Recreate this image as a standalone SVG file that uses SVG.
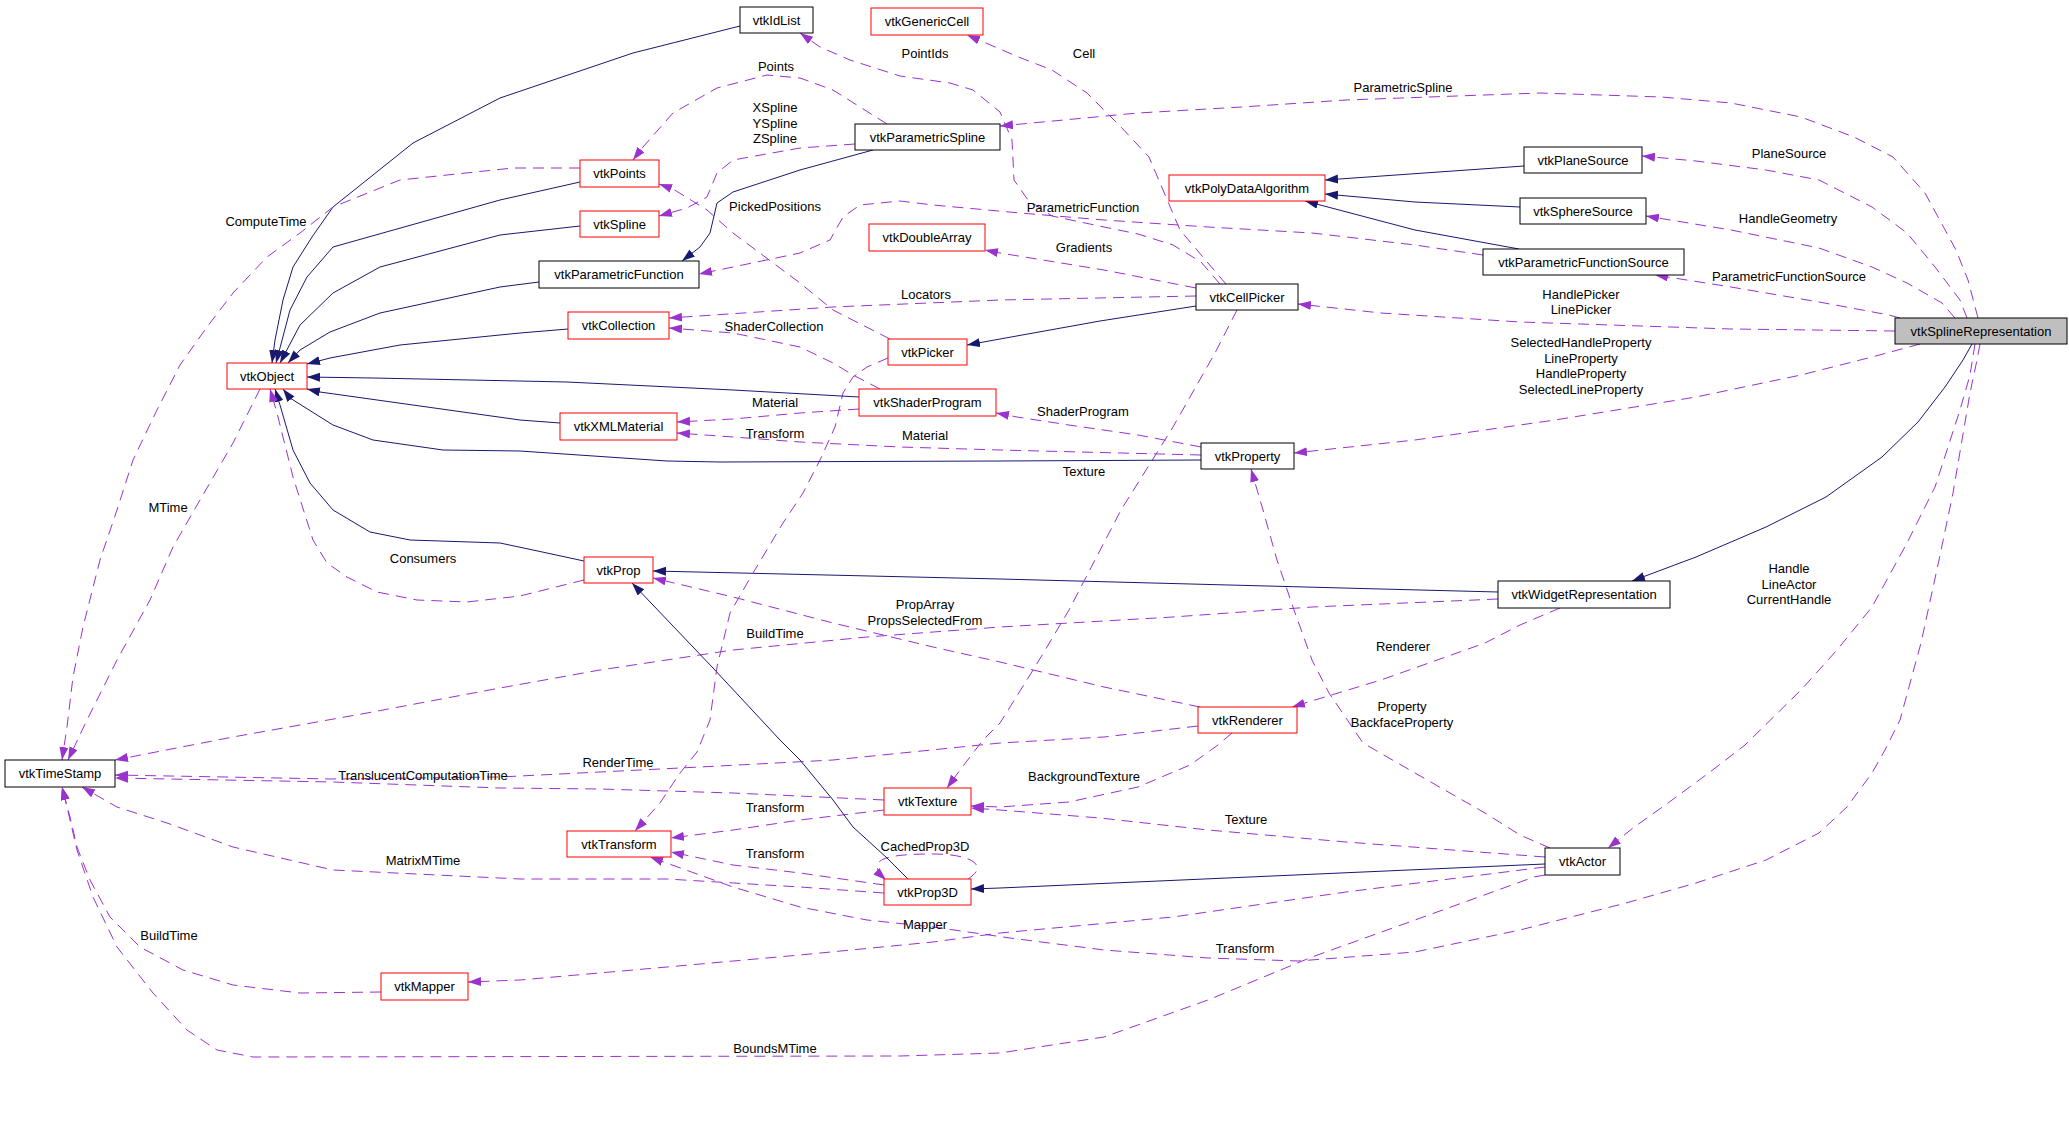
<svg xmlns="http://www.w3.org/2000/svg" width="2069" height="1124" viewBox="0 0 2069 1124">
<defs>
<marker id="ap" markerUnits="userSpaceOnUse" markerWidth="14" markerHeight="10" refX="13" refY="4.5" orient="auto"><path d="M0,0 L13,4.5 L0,9 z" fill="#9a32cd"/></marker>
<marker id="an" markerUnits="userSpaceOnUse" markerWidth="14" markerHeight="10" refX="13" refY="4.5" orient="auto"><path d="M0,0 L13,4.5 L0,9 z" fill="#191970"/></marker>
<style>
.nd rect{fill:#fff;stroke:#000;stroke-width:1}
.nd.red rect{stroke:#ff0000}
.nd.cur rect{fill:#bfbfbf}
text{font-family:"Liberation Sans",Arial,sans-serif;font-size:13px;text-anchor:middle;fill:#000}
.d{fill:none;stroke:#9a32cd;stroke-width:1;stroke-dasharray:11,7;stroke-linejoin:round;marker-end:url(#ap)}
.s{fill:none;stroke:#191970;stroke-width:1;stroke-linejoin:round;marker-end:url(#an)}
</style>
</defs>
<rect width="2069" height="1124" fill="#fff"/>
<g id="edges">
<!-- SplineRep out -->
<path class="d" d="M1978,318 L1968,280 L1956,250 L1925,193 L1893,157 L1854,137 L1801,117 L1731,103 L1661,97 L1540,93 L1346,100 L1242,107 L1138,113 L1000,126"/>
<path class="d" d="M1967,318 L1960,300 L1935,267 L1907,233 L1872,207 L1819,180 L1766,170 L1696,161 L1642,156"/>
<path class="d" d="M1955,318 L1942,303 L1907,283 L1872,267 L1819,248 L1731,230 L1646,216"/>
<path class="d" d="M1900,318 L1889,315 L1819,302 L1731,287 L1655,275"/>
<path class="d" d="M1895,331 L1731,329 L1520,322 L1381,313 L1298,304"/>
<path class="d" d="M1920,344 L1872,357 L1801,375 L1696,397 L1555,420 L1415,440 L1294,453"/>
<path class="s" d="M1972,344 L1963,360 L1945,387 L1918,422 L1882,457 L1826,497 L1766,527 L1696,557 L1632,581"/>
<path class="d" d="M1975,344 L1970,375 L1960,410 L1935,487 L1907,543 L1872,607 L1837,650 L1801,690 L1745,745 L1710,772 L1668,803 L1633,828 L1608,848"/>
<path class="d" d="M1980,344 L1977,360 L1970,393 L1953,493 L1939,560 L1921,643 L1900,720 L1885,750 L1872,773 L1847,807 L1819,833 L1766,860 L1696,883 L1626,903 L1520,930 L1415,952 L1298,961 L1208,958 L1104,950 L1010,938 L933,927 L867,920 L800,907 L733,887 L650,857"/>
<!-- vtkActor out -->
<path class="d" d="M1545,867 L1346,892 L1173,917 L1000,933 L933,942 L800,955 L667,967 L520,980 L468,982"/>
<path class="d" d="M1545,875 L1534,877 L1415,920 L1312,957 L1208,1000 L1104,1037 L1000,1053 L900,1056 L253,1057 L217,1050 L187,1030 L153,993 L117,947 L93,897 L77,850 L67,807 L62,787"/>
<path class="d" d="M1550,848 L1520,835 L1485,813 L1415,773 L1363,743 L1329,693 L1312,660 L1294,610 L1277,560 L1263,510 L1251,469"/>
<path class="d" d="M1545,857 L1346,842 L1208,830 L1100,818 L1000,810 L971,808"/>
<path class="s" d="M1545,864 L1000,888 L971,889"/>
<!-- vtkRenderer out -->
<path class="d" d="M1232,733 L1218,745 L1190,765 L1138,787 L1069,802 L1000,807 L971,806"/>
<path class="d" d="M1200,707 L1104,687 L1000,662 L933,647 L833,623 L733,597 L653,578"/>
<path class="d" d="M1198,726 L1104,737 L1000,743 L833,760 L700,767 L500,777 L333,779 L115,775"/>
<!-- WidgetRep out -->
<path class="d" d="M1560,608 L1520,625 L1485,643 L1381,680 L1305,703 L1292,707"/>
<path class="d" d="M1498,599 L1312,607 L1173,617 L1000,627 L867,637 L733,650 L600,670 L500,688 L367,713 L233,737 L115,760"/>
<path class="s" d="M1498,592 L1381,589 L1000,579 L653,571"/>
<!-- vtkTexture out -->
<path class="d" d="M884,800 L733,793 L600,789 L500,788 L333,782 L115,778"/>
<path class="d" d="M884,810 L800,820 L733,830 L671,838"/>
<!-- vtkProp3D out -->
<path class="d" d="M884,885 L800,873 L733,865 L671,852"/>
<path class="d" d="M968,879 C990,865 970,854 933,854 C890,854 862,858 886,880"/>
<path class="d" d="M884,893 L800,887 L667,879 L520,879 L333,870 L233,847 L167,823 L117,807 L82,787"/>
<path class="s" d="M908,879 L887,858 L853,827 L833,800 L800,760 L780,740 L713,668 L632,583"/>
<!-- vtkPicker out -->
<path class="d" d="M888,358 L867,367 L853,377 L843,393 L835,427 L820,460 L803,493 L783,523 L753,573 L730,613 L717,667 L710,720 L697,752 L680,773 L660,803 L635,831"/>
<path class="d" d="M890,339 L833,310 L800,283 L733,233 L707,210 L673,189 L659,184"/>
<!-- vtkShaderProgram out -->
<path class="d" d="M880,389 L853,375 L833,363 L800,347 L733,333 L669,328"/>
<path class="d" d="M859,409 L800,413 L733,419 L677,422"/>
<path class="s" d="M859,397 L733,390 L567,382 L373,378 L307,377"/>
<!-- vtkCellPicker out -->
<path class="s" d="M1196,306 L1100,321 L1000,339 L967,345"/>
<path class="d" d="M1196,296 L1000,300 L833,307 L669,318"/>
<path class="d" d="M1196,288 L1104,270 L1000,253 L985,250"/>
<path class="d" d="M1226,284 L1208,263 L1180,230 L1163,190 L1149,157 L1121,127 L1087,93 L1052,70 L1021,58 L967,35"/>
<path class="d" d="M1220,284 L1201,262 L1173,245 L1138,234 L1104,227 L1052,216 L1028,200 L1014,180 L1012,140 L1000,112 L973,90 L950,83 L900,76 L850,60 L820,47 L800,33"/>
<path class="d" d="M1237,310 L1215,353 L1173,427 L1121,510 L1069,610 L1035,667 L1000,723 L983,740 L960,770 L947,788"/>
<!-- PFS out -->
<path class="d" d="M1483,255 L1415,245 L1312,233 L1208,227 L1104,220 L1020,213 L933,205 L900,201 L860,205 L843,217 L830,240 L800,253 L733,267 L699,274"/>
<path class="s" d="M1519,249 L1415,230 L1305,201"/>
<path class="s" d="M1524,166 L1325,180"/>
<path class="s" d="M1520,207 L1415,202 L1325,194"/>
<!-- ParametricSpline out -->
<path class="d" d="M887,124 L833,90 L800,78 L767,75 L717,88 L673,113 L643,147 L633,160"/>
<path class="d" d="M855,144 L800,148 L733,160 L717,173 L707,197 L687,208 L659,216"/>
<path class="s" d="M873,150 L800,170 L733,192 L717,203 L710,233 L700,247 L682,261"/>
<!-- vtkProperty out -->
<path class="d" d="M1201,447 L1138,435 L1069,425 L1017,417 L996,413"/>
<path class="d" d="M1201,455 L1000,450 L900,447 L800,442 L733,437 L677,433"/>
<path class="s" d="M1201,460 L1000,461 L720,462 L667,461 L520,451 L443,450 L373,440 L333,425 L290,398 L283,389"/>
<!-- to vtkObject -->
<path class="s" d="M560,423 L520,420 L320,392 L307,389"/>
<path class="s" d="M568,329 L520,333 L400,345 L330,358 L307,364"/>
<path class="s" d="M539,282 L500,287 L380,313 L330,332 L300,350 L288,363"/>
<path class="s" d="M580,226 L500,235 L380,267 L333,293 L300,325 L280,363"/>
<path class="s" d="M580,182 L500,200 L333,247 L307,277 L290,310 L276,363"/>
<path class="s" d="M740,26 L633,53 L500,98 L413,143 L333,207 L312,237 L293,267 L283,300 L275,340 L272,363"/>
<path class="s" d="M584,561 L533,550 L500,543 L410,540 L370,532 L333,510 L310,483 L293,450 L280,405 L275,389"/>
<path class="d" d="M584,580 L520,596 L467,602 L417,600 L377,592 L347,577 L327,563 L313,540 L293,477 L277,413 L270,389"/>
<!-- to vtkTimeStamp -->
<path class="d" d="M580,168 L513,168 L400,180 L333,207 L300,233 L267,257 L233,293 L207,327 L180,365 L157,410 L133,460 L117,510 L100,560 L83,627 L73,677 L67,727 L62,760"/>
<path class="d" d="M260,389 L233,443 L200,500 L173,547 L150,600 L117,660 L87,720 L68,760"/>
<path class="d" d="M381,992 L300,993 L233,985 L183,970 L140,947 L110,917 L90,880 L77,847 L70,817 L62,787"/>
</g>
<g id="edge-labels">
<text x="1403" y="92">ParametricSpline</text>
<text x="1789" y="158">PlaneSource</text>
<text x="1788" y="223">HandleGeometry</text>
<text x="1789" y="281">ParametricFunctionSource</text>
<text x="1581" y="299">HandlePicker</text>
<text x="1581" y="314">LinePicker</text>
<text x="1581" y="347">SelectedHandleProperty</text>
<text x="1581" y="363">LineProperty</text>
<text x="1581" y="378">HandleProperty</text>
<text x="1581" y="394">SelectedLineProperty</text>
<text x="1789" y="573">Handle</text>
<text x="1789" y="589">LineActor</text>
<text x="1789" y="604">CurrentHandle</text>
<text x="925" y="58">PointIds</text>
<text x="1084" y="58">Cell</text>
<text x="776" y="71">Points</text>
<text x="775" y="112">XSpline</text>
<text x="775" y="128">YSpline</text>
<text x="775" y="143">ZSpline</text>
<text x="775" y="211">PickedPositions</text>
<text x="1083" y="212">ParametricFunction</text>
<text x="1084" y="252">Gradients</text>
<text x="926" y="299">Locators</text>
<text x="774" y="331">ShaderCollection</text>
<text x="266" y="226">ComputeTime</text>
<text x="775" y="407">Material</text>
<text x="775" y="438">Transform</text>
<text x="925" y="440">Material</text>
<text x="1083" y="416">ShaderProgram</text>
<text x="1084" y="476">Texture</text>
<text x="168" y="512">MTime</text>
<text x="423" y="563">Consumers</text>
<text x="925" y="609">PropArray</text>
<text x="925" y="625">PropsSelectedFrom</text>
<text x="775" y="638">BuildTime</text>
<text x="1403" y="651">Renderer</text>
<text x="1402" y="711">Property</text>
<text x="1402" y="727">BackfaceProperty</text>
<text x="618" y="767">RenderTime</text>
<text x="423" y="780">TranslucentComputationTime</text>
<text x="1084" y="781">BackgroundTexture</text>
<text x="775" y="812">Transform</text>
<text x="1246" y="824">Texture</text>
<text x="925" y="851">CachedProp3D</text>
<text x="775" y="858">Transform</text>
<text x="423" y="865">MatrixMTime</text>
<text x="925" y="929">Mapper</text>
<text x="169" y="940">BuildTime</text>
<text x="1245" y="953">Transform</text>
<text x="775" y="1053">BoundsMTime</text>
</g>
<g id="vtkIdList" class="nd"><rect x="740" y="7" width="73" height="26"/><text x="776.5" y="24.5">vtkIdList</text></g>
<g id="vtkGenericCell" class="nd red"><rect x="871" y="8" width="112" height="27"/><text x="927" y="26">vtkGenericCell</text></g>
<g id="vtkParametricSpline" class="nd"><rect x="855" y="124" width="145" height="26"/><text x="927.5" y="141.5">vtkParametricSpline</text></g>
<g id="vtkPoints" class="nd red"><rect x="580" y="160" width="79" height="27"/><text x="619.5" y="178">vtkPoints</text></g>
<g id="vtkSpline" class="nd red"><rect x="580" y="211" width="79" height="26"/><text x="619.5" y="228.5">vtkSpline</text></g>
<g id="vtkParametricFunction" class="nd"><rect x="539" y="261" width="160" height="27"/><text x="619" y="279">vtkParametricFunction</text></g>
<g id="vtkCollection" class="nd red"><rect x="568" y="312" width="101" height="27"/><text x="618.5" y="330">vtkCollection</text></g>
<g id="vtkDoubleArray" class="nd red"><rect x="869" y="224" width="116" height="27"/><text x="927" y="242">vtkDoubleArray</text></g>
<g id="vtkPicker" class="nd red"><rect x="888" y="339" width="79" height="26"/><text x="927.5" y="356.5">vtkPicker</text></g>
<g id="vtkPolyDataAlgorithm" class="nd red"><rect x="1169" y="175" width="156" height="26"/><text x="1247" y="192.5">vtkPolyDataAlgorithm</text></g>
<g id="vtkCellPicker" class="nd"><rect x="1196" y="284" width="102" height="26"/><text x="1247" y="301.5">vtkCellPicker</text></g>
<g id="vtkPlaneSource" class="nd"><rect x="1524" y="147" width="118" height="26"/><text x="1583" y="164.5">vtkPlaneSource</text></g>
<g id="vtkSphereSource" class="nd"><rect x="1520" y="198" width="126" height="26"/><text x="1583" y="215.5">vtkSphereSource</text></g>
<g id="vtkParametricFunctionSource" class="nd"><rect x="1483" y="249" width="201" height="26"/><text x="1583.5" y="266.5">vtkParametricFunctionSource</text></g>
<g id="vtkSplineRepresentation" class="nd cur"><rect x="1895" y="318" width="172" height="26"/><text x="1981" y="335.5">vtkSplineRepresentation</text></g>
<g id="vtkObject" class="nd red"><rect x="227" y="363" width="80" height="26"/><text x="267" y="380.5">vtkObject</text></g>
<g id="vtkShaderProgram" class="nd red"><rect x="859" y="389" width="137" height="27"/><text x="927.5" y="407">vtkShaderProgram</text></g>
<g id="vtkXMLMaterial" class="nd red"><rect x="560" y="413" width="117" height="27"/><text x="618.5" y="431">vtkXMLMaterial</text></g>
<g id="vtkProperty" class="nd"><rect x="1201" y="443" width="93" height="26"/><text x="1247.5" y="460.5">vtkProperty</text></g>
<g id="vtkProp" class="nd red"><rect x="584" y="557" width="69" height="26"/><text x="618.5" y="574.5">vtkProp</text></g>
<g id="vtkWidgetRepresentation" class="nd"><rect x="1498" y="581" width="172" height="27"/><text x="1584" y="599">vtkWidgetRepresentation</text></g>
<g id="vtkRenderer" class="nd red"><rect x="1198" y="707" width="99" height="26"/><text x="1247.5" y="724.5">vtkRenderer</text></g>
<g id="vtkTimeStamp" class="nd"><rect x="5" y="760" width="110" height="27"/><text x="60" y="778">vtkTimeStamp</text></g>
<g id="vtkTexture" class="nd red"><rect x="884" y="788" width="87" height="27"/><text x="927.5" y="806">vtkTexture</text></g>
<g id="vtkTransform" class="nd red"><rect x="567" y="831" width="104" height="26"/><text x="619" y="848.5">vtkTransform</text></g>
<g id="vtkProp3D" class="nd red"><rect x="884" y="879" width="87" height="26"/><text x="927.5" y="896.5">vtkProp3D</text></g>
<g id="vtkActor" class="nd"><rect x="1545" y="848" width="75" height="27"/><text x="1582.5" y="866">vtkActor</text></g>
<g id="vtkMapper" class="nd red"><rect x="381" y="973" width="87" height="27"/><text x="424.5" y="991">vtkMapper</text></g>
</svg>
